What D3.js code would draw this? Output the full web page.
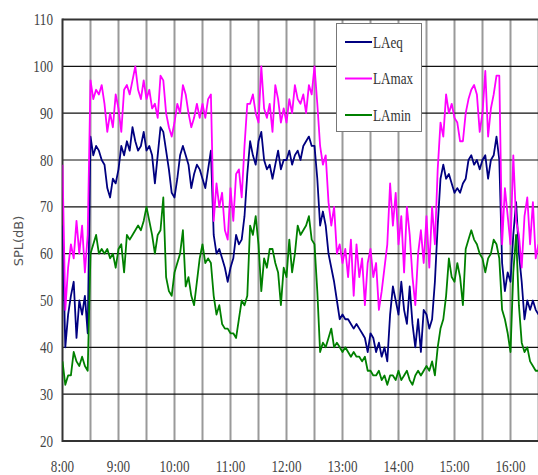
<!DOCTYPE html>
<html lang="en">
<head>
<meta charset="utf-8">
<title>SPL</title>
<script src="https://cdn.jsdelivr.net/npm/d3@7/dist/d3.min.js"></script>
<style>
  body { margin: 0; background: #fff; }
  svg { display: block; }
</style>
</head>
<body>
<script>
// minutes after 8:00, one reading every 3 minutes
var stepMin = 3;

var laeq = [
  66, 40, 47, 51, 54, 42, 50, 47, 51, 43,
  85, 81, 83, 82, 80, 79, 74, 72, 76, 75,
  78, 83, 81, 84, 82, 87, 84, 82, 83, 86,
  82, 83, 81, 75, 81, 87, 86, 82, 78, 73,
  72, 76, 81, 83, 81, 79, 74, 77, 79, 78,
  76, 74, 78, 82, 64, 60, 61, 59, 57, 54,
  57, 59, 64, 62, 63, 68, 77, 84, 81, 79,
  84, 86, 80, 78, 79, 76, 79, 82, 78, 80,
  80, 82, 79, 81, 82, 80, 83, 84, 85, 83,
  83, 76, 66, 69, 66, 60, 57, 54, 50, 46,
  47, 46, 46, 45, 44, 45, 44, 43, 42, 39,
  43, 42, 39, 41, 38, 40, 37, 47, 53, 50,
  47, 54, 48, 45, 53, 45, 40, 46, 39, 48,
  47, 44, 46, 54, 66, 76, 79, 76, 77, 75,
  73, 74, 73, 75, 76, 80, 81, 79, 80, 78,
  80, 81, 76, 80, 81, 85, 80, 58, 52, 56,
  54, 64, 71, 60, 54, 46, 50, 48, 50, 48,
  47
];

var lamax = [
  79, 48, 57, 62, 59, 67, 60, 66, 56, 64,
  97, 93, 95, 94, 96, 92, 86, 90, 87, 94,
  91, 86, 95, 96, 94, 97, 100, 95, 93, 97,
  93, 95, 91, 92, 89, 98, 97, 90, 87, 85,
  88, 92, 90, 96, 94, 90, 87, 89, 92, 89,
  92, 89, 93, 94, 67, 75, 70, 73, 65, 63,
  74, 67, 77, 78, 72, 83, 92, 92, 94, 90,
  88, 100, 91, 89, 92, 86, 96, 93, 88, 91,
  88, 93, 90, 96, 93, 92, 94, 90, 96, 94,
  100, 92, 83, 79, 81, 71, 66, 70, 60, 62,
  58, 61, 55, 63, 51, 62, 55, 59, 49, 58,
  61, 55, 58, 48, 52, 57, 62, 75, 66, 73,
  62, 68, 56, 70, 64, 55, 49, 60, 65, 58,
  68, 57, 70, 62, 78, 88, 85, 94, 90, 92,
  89, 88, 84, 84, 90, 93, 95, 96, 94, 86,
  90, 99, 85, 91, 94, 98, 98, 62, 74, 68,
  62, 81, 67, 64, 57, 68, 72, 62, 71, 59,
  62
];

var lamin = [
  37, 32, 34, 34, 39, 37, 36, 38, 36, 35,
  60, 62, 64, 60, 61, 60, 61, 59, 60, 57,
  61, 62, 56, 64, 63, 64, 65, 66, 65, 67,
  70, 67, 64, 60, 64, 65, 72, 55, 52, 51,
  56, 58, 60, 65, 53, 55, 51, 49, 54, 59,
  62, 58, 59, 58, 51, 47, 49, 45, 44, 44,
  43, 43, 42, 46, 50, 49, 51, 66, 64, 68,
  62, 52, 59, 57, 61, 61, 58, 56, 49, 57,
  55, 63, 56, 60, 66, 64, 65, 66, 68, 63,
  62, 52, 39, 41, 40, 42, 44, 40, 41, 40,
  39, 40, 39, 38, 39, 38, 38, 37, 38, 35,
  35, 34, 34, 35, 33, 34, 32, 34, 34, 33,
  35, 33, 34, 35, 33, 32, 34, 35, 34, 35,
  36, 35, 37, 34, 40, 44, 46, 51, 59, 55,
  54, 58, 55, 49, 61, 63, 65, 63, 62, 60,
  59, 56, 59, 60, 63, 62, 59, 48, 46, 43,
  39, 56, 64, 49, 41, 39, 40, 37, 36, 35,
  35
];

var seriesNames = ["LAeq", "LAmax", "LAmin"];
var seriesColors = ["#000080", "#ff00ff", "#008000"];
var hourLabels = ["8:00", "9:00", "10:00", "11:00", "12:00", "13:00", "14:00", "15:00", "16:00"];
var yTicks = [20, 30, 40, 50, 60, 70, 80, 90, 100, 110];

var w = 538, h = 475;
var plotL = 62.5, plotT = 19.5, plotB = 441, plotR = 538.5;

var svg = d3.select("body").append("svg")
  .attr("width", w)
  .attr("height", h);

var x = d3.scaleLinear().domain([0, 510]).range([plotL, plotR]);
var y = d3.scaleLinear().domain([20, 110]).range([plotB, plotT]);

// vertical grid every half hour
var g = svg.append("g");
g.selectAll("line.v")
  .data(d3.range(30, 511, 30))
  .enter().append("line")
  .attr("class", "v")
  .attr("x1", function(d) { return x(d); })
  .attr("x2", function(d) { return x(d); })
  .attr("y1", plotT)
  .attr("y2", plotB)
  .attr("stroke", "#9a9a9a")
  .attr("stroke-width", 2);

// horizontal grid
g.selectAll("line.h")
  .data(yTicks.slice(1, -1))
  .enter().append("line")
  .attr("class", "h")
  .attr("x1", plotL)
  .attr("x2", w)
  .attr("y1", function(d) { return y(d); })
  .attr("y2", function(d) { return y(d); })
  .attr("stroke", "#111")
  .attr("stroke-width", 1.2);

// frame
svg.append("line").attr("x1", plotL).attr("x2", w).attr("y1", plotT).attr("y2", plotT)
  .attr("stroke", "#333").attr("stroke-width", 2);
svg.append("line").attr("x1", plotL).attr("x2", w).attr("y1", plotB).attr("y2", plotB)
  .attr("stroke", "#333").attr("stroke-width", 2);
svg.append("line").attr("x1", plotL).attr("x2", plotL).attr("y1", plotT - 1).attr("y2", plotB + 1)
  .attr("stroke", "#333").attr("stroke-width", 2);

// lines
var line = d3.line()
  .x(function(d, i) { return x(i * stepMin); })
  .y(function(d) { return y(d); });

var allSeries = [laeq, lamax, lamin];
svg.append("defs").append("clipPath").attr("id", "clip")
  .append("rect").attr("x", plotL).attr("y", plotT).attr("width", w - plotL).attr("height", plotB - plotT);

svg.append("g").attr("clip-path", "url(#clip)")
  .selectAll("path")
  .data(allSeries)
  .enter().append("path")
  .attr("d", line)
  .attr("fill", "none")
  .attr("stroke", function(d, i) { return seriesColors[i]; })
  .attr("stroke-width", 1.8)
  .attr("stroke-linejoin", "round");

// y tick labels
svg.selectAll("text.yt")
  .data(yTicks)
  .enter().append("text")
  .attr("class", "yt")
  .attr("transform", function(d) { return "translate(53," + (y(d) + 5.5) + ") scale(0.82,1)"; })
  .attr("text-anchor", "end")
  .attr("font-family", "Liberation Serif, serif")
  .attr("font-size", "16px")
  .attr("fill", "#444")
  .text(function(d) { return d; });

// x tick labels
svg.selectAll("text.xt")
  .data(hourLabels)
  .enter().append("text")
  .attr("class", "xt")
  .attr("transform", function(d, i) { return "translate(" + x(i * 60) + ",472) scale(0.82,1)"; })
  .attr("text-anchor", "middle")
  .attr("font-family", "Liberation Serif, serif")
  .attr("font-size", "16px")
  .attr("fill", "#444")
  .text(function(d) { return d; });

// y axis title
svg.append("text")
  .attr("transform", "translate(23,241) rotate(-90)")
  .attr("text-anchor", "middle")
  .attr("font-family", "DejaVu Sans, sans-serif")
  .attr("font-size", "13px")
  .attr("fill", "#555")
  .text("SPL(dB)");

// legend
var legend = svg.append("g");
legend.append("rect")
  .attr("x", 336.5).attr("y", 23.5)
  .attr("width", 85).attr("height", 108)
  .attr("fill", "#fff")
  .attr("stroke", "#777")
  .attr("stroke-width", 1);

var items = legend.selectAll("g.item")
  .data(seriesNames)
  .enter().append("g")
  .attr("class", "item")
  .attr("transform", function(d, i) { return "translate(0," + (42 + i * 36.5) + ")"; });

items.append("line")
  .attr("x1", 345).attr("x2", 372)
  .attr("y1", 0).attr("y2", 0)
  .attr("stroke", function(d, i) { return seriesColors[i]; })
  .attr("stroke-width", 2);

items.append("text")
  .attr("transform", "translate(373,5.5) scale(0.82,1)")
  .attr("font-family", "Liberation Serif, serif")
  .attr("font-size", "16px")
  .attr("fill", "#333")
  .text(function(d) { return d; });

</script>
</body>
</html>
